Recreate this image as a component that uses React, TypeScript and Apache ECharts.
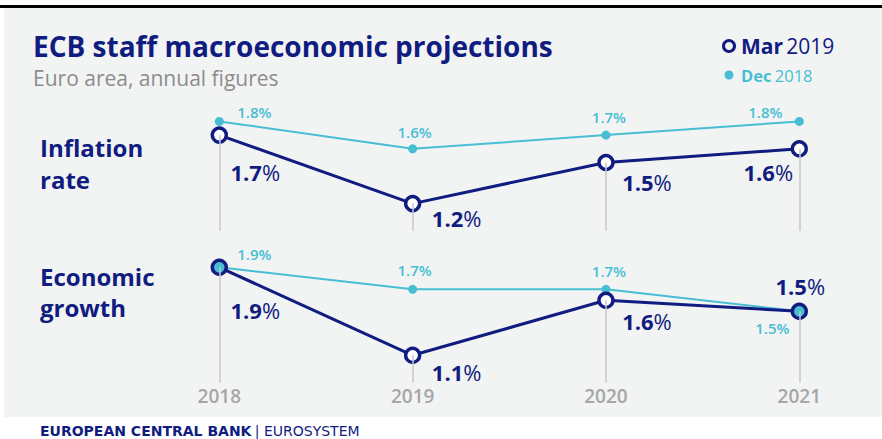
import React, { useEffect, useRef } from "react";
import * as echarts from "echarts";

const years = ["2018", "2019", "2020", "2021"];
const inflationMar2019 = [1.7, 1.2, 1.5, 1.6];
const inflationDec2018 = [1.8, 1.6, 1.7, 1.8];
const growthMar2019 = [1.9, 1.1, 1.6, 1.5];
const growthDec2018 = [1.9, 1.7, 1.7, 1.5];

// label offsets (style only)
const inflMarOffsets = [[36, 37], [44, 14], [41, 19], [-31, 23]];
const inflDecOffsets = [[35, -9], [2, -17], [3, -18], [-34, -9]];
const growMarOffsets = [[36, 43], [44, 17], [41, 21], [1, -25]];
const growDecOffsets = [[35, -13], [2, -19], [3, -18], [-27, 17]];

const NAVY = "#101c80";
const TEAL = "#47bed3";
const BG = "#f2f3f3";
const FONT = "'Open Sans', 'Noto Sans', sans-serif";
const FOOT_FONT = "'DejaVu Sans', sans-serif";

const INFL_MIN = 1.0;
const INFL_MAX = 2.0;
const GROW_MIN = 0.85;
const GROW_MAX = 2.0;

function navyData(vals: number[], other: number[], offs: number[][]) {
  return vals.map((v, i) => ({
    value: v,
    itemStyle: { color: v === other[i] ? TEAL : "#ffffff" },
    label: { offset: offs[i] },
  }));
}
function tealData(vals: number[], offs: number[][]) {
  return vals.map((v, i) => ({ value: v, label: { offset: offs[i] } }));
}
function dropLines(vals: number[], min: number) {
  return vals.map((v, i) => [{ coord: [i, v] }, { coord: [i, min] }]);
}

export default function App() {
  const ref = useRef<HTMLDivElement>(null);
  useEffect(() => {
    if (!ref.current) return;
    const chart = echarts.init(ref.current, null, { renderer: "svg" });
    const navyLabel = {
      show: true,
      position: "inside",
      formatter: (p: any) => `{b|${Number(p.value).toFixed(1)}}{p|%}`,
      rich: {
        b: { fontFamily: FONT, fontSize: 22, fontWeight: "bold", color: NAVY },
        p: { fontFamily: FONT, fontSize: 22, fontWeight: "normal", color: NAVY },
      },
    };
    const tealLabel = {
      show: true,
      position: "inside",
      formatter: (p: any) => `${Number(p.value).toFixed(1)}%`,
      fontFamily: FONT,
      fontSize: 15,
      fontWeight: 600,
      color: TEAL,
    };
    const navyStyle = {
      type: "line",
      symbol: "circle",
      symbolSize: 14,
      lineStyle: { color: NAVY, width: 3 },
      itemStyle: { borderColor: NAVY, borderWidth: 3.4 },
      label: navyLabel,
      z: 4,
    };
    const tealStyle = {
      type: "line",
      symbol: "circle",
      symbolSize: 9,
      lineStyle: { color: TEAL, width: 2 },
      itemStyle: { color: TEAL },
      label: tealLabel,
      z: 3,
    };
    const dropStyle = (vals: number[], min: number, idx: number) => ({
      type: "line",
      xAxisIndex: idx,
      yAxisIndex: idx,
      data: vals,
      showSymbol: false,
      silent: true,
      lineStyle: { opacity: 0 },
      z: 1,
      markLine: {
        silent: true,
        symbol: "none",
        label: { show: false },
        lineStyle: { color: "#c8c8c8", width: 1.5, type: "solid" },
        data: dropLines(vals, min),
      },
    });
    const rowText = (text: string, y: number) => ({
      type: "text",
      x: 40,
      y,
      style: {
        text,
        fontFamily: FONT,
        fontSize: 24,
        fontWeight: "bold",
        fill: NAVY,
        verticalAlign: "middle",
      },
    });

    chart.setOption({
      animation: false,
      backgroundColor: "#ffffff",
      grid: [
        { left: 219.3, right: 82.7, top: 94, height: 137 },
        { left: 219.3, right: 82.7, top: 256.3, height: 126.5 },
      ],
      xAxis: [
        {
          gridIndex: 0,
          type: "category",
          data: years,
          boundaryGap: false,
          axisLine: { show: false },
          axisTick: { show: false },
          axisLabel: { show: false },
          splitLine: { show: false },
        },
        {
          gridIndex: 1,
          type: "category",
          data: years,
          boundaryGap: false,
          axisLine: { show: false },
          axisTick: { show: false },
          axisLabel: {
            show: true,
            margin: 4,
            fontFamily: FONT,
            fontSize: 19,
            fontWeight: 600,
            color: "#a6a6a6",
          },
          splitLine: { show: false },
        },
      ],
      yAxis: [
        { gridIndex: 0, type: "value", min: INFL_MIN, max: INFL_MAX, show: false },
        { gridIndex: 1, type: "value", min: GROW_MIN, max: GROW_MAX, show: false },
      ],
      graphic: [
        { type: "rect", shape: { x: 0, y: 5, width: 882, height: 3 }, style: { fill: "#000" }, z: -10 },
        { type: "rect", shape: { x: 4, y: 8, width: 878, height: 409 }, style: { fill: BG }, z: -10 },
        {
          type: "text",
          x: 33,
          y: 46,
          style: {
            text: "ECB staff macroeconomic projections",
            fontFamily: FONT,
            fontSize: 28,
            fontWeight: "bold",
            fill: NAVY,
            verticalAlign: "middle",
          },
        },
        {
          type: "text",
          x: 33,
          y: 78,
          style: {
            text: "Euro area, annual figures",
            fontFamily: FONT,
            fontSize: 21,
            fill: "#8c8c8c",
            verticalAlign: "middle",
          },
        },
        {
          type: "circle",
          shape: { cx: 729, cy: 46, r: 5.5 },
          style: { fill: "none", stroke: NAVY, lineWidth: 3 },
        },
        {
          type: "text",
          x: 741,
          y: 46,
          style: {
            text: "{b|Mar} {r|2019}",
            verticalAlign: "middle",
            rich: {
              b: { fontFamily: FONT, fontSize: 21, fontWeight: "bold", fill: NAVY, color: NAVY },
              r: { fontFamily: FONT, fontSize: 21, fill: NAVY, color: NAVY },
            },
          },
        },
        {
          type: "circle",
          shape: { cx: 729, cy: 75, r: 4.5 },
          style: { fill: TEAL },
        },
        {
          type: "text",
          x: 741,
          y: 75,
          style: {
            text: "{b|Dec} {r|2018}",
            verticalAlign: "middle",
            rich: {
              b: { fontFamily: FONT, fontSize: 16.5, fontWeight: "bold", fill: TEAL, color: TEAL },
              r: { fontFamily: FONT, fontSize: 16.5, fill: TEAL, color: TEAL },
            },
          },
        },
        rowText("Inflation", 147),
        rowText("rate", 179),
        rowText("Economic", 276),
        rowText("growth", 307),
        {
          type: "text",
          x: 40,
          y: 431,
          style: {
            text: "{b|EUROPEAN CENTRAL BANK} {r|| EUROSYSTEM}",
            verticalAlign: "middle",
            rich: {
              b: { fontFamily: FOOT_FONT, fontSize: 14, fontWeight: "bold", fill: NAVY, color: NAVY },
              r: { fontFamily: FOOT_FONT, fontSize: 14, fill: NAVY, color: NAVY },
            },
          },
        },
      ],
      series: [
        dropStyle(inflationMar2019, INFL_MIN, 0),
        dropStyle(growthMar2019, GROW_MIN, 1),
        {
          ...tealStyle,
          name: "Dec 2018",
          xAxisIndex: 0,
          yAxisIndex: 0,
          data: tealData(inflationDec2018, inflDecOffsets),
        },
        {
          ...navyStyle,
          name: "Mar 2019",
          xAxisIndex: 0,
          yAxisIndex: 0,
          data: navyData(inflationMar2019, inflationDec2018, inflMarOffsets),
        },
        {
          ...tealStyle,
          name: "Dec 2018",
          xAxisIndex: 1,
          yAxisIndex: 1,
          data: tealData(growthDec2018, growDecOffsets),
        },
        {
          ...navyStyle,
          name: "Mar 2019",
          xAxisIndex: 1,
          yAxisIndex: 1,
          data: navyData(growthMar2019, growthDec2018, growMarOffsets),
        },
      ],
    });
    return () => chart.dispose();
  }, []);
  return (
    <div
      ref={ref}
      style={{ position: "fixed", left: 0, top: 0, width: 882, height: 439 }}
    />
  );
}
